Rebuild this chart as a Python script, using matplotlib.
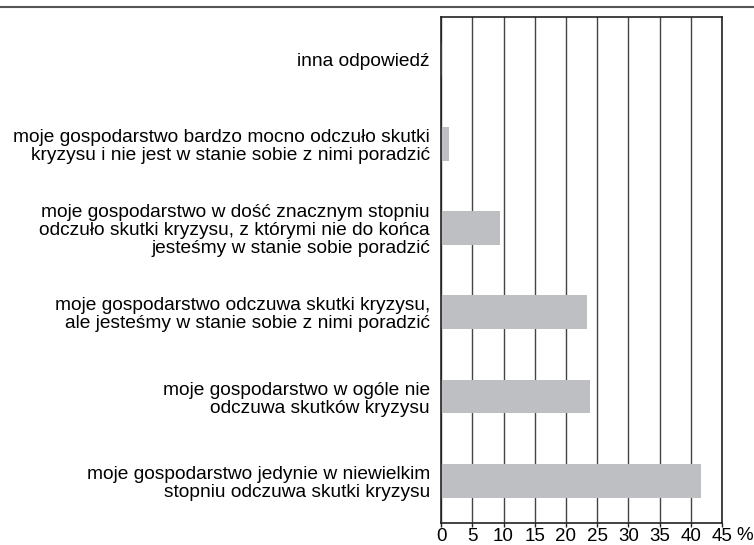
import matplotlib.pyplot as plt
from matplotlib.lines import Line2D
import matplotlib.transforms as mtransforms

# Categories listed bottom to top
labels = [
    "moje gospodarstwo jedynie w niewielkim\nstopniu odczuwa skutki kryzysu",
    "moje gospodarstwo w ogóle nie\nodczuwa skutków kryzysu",
    "moje gospodarstwo odczuwa skutki kryzysu,\nale jesteśmy w stanie sobie z nimi poradzić",
    "moje gospodarstwo w dość znacznym stopniu\nodczuło skutki kryzysu, z którymi nie do końca\njesteśmy w stanie sobie poradzić",
    "moje gospodarstwo bardzo mocno odczuło skutki\nkryzysu i nie jest w stanie sobie z nimi poradzić",
    "inna odpowiedź",
]
values = [41.6, 23.9, 23.4, 9.5, 1.2, 0.2]
xticks = [0, 5, 10, 15, 20, 25, 30, 35, 40, 45]

plt.rcParams['font.family'] = ['Liberation Sans', 'DejaVu Sans']
FS = 13.8

fig = plt.figure(figsize=(7.54, 5.45), dpi=100)
ax = fig.add_axes([0.585, 0.0404, 0.3726, 0.9276])

ypos = list(range(len(labels)))
ax.barh(ypos, values, height=0.4, color='#bebfc2', zorder=1)

ax.set_xlim(0, 45)
ax.set_ylim(-0.5, len(labels) - 0.5)
ax.set_xticks(xticks)
ax.set_xticklabels([str(t) for t in xticks], fontsize=13.5)
ax.set_yticks(ypos)
ax.set_yticklabels(labels, fontsize=FS, linespacing=1.08)
ax.tick_params(axis='y', length=0, pad=8)
ax.tick_params(axis='x', direction='out', length=3, width=1, color='#222222', pad=0.5)

ax.grid(axis='x', color='#444444', linewidth=1, zorder=0)
ax.set_axisbelow(True)
for s in ax.spines.values():
    s.set_color('#222222')
    s.set_linewidth(1.2)

# percent sign next to the last tick label
trans = mtransforms.blended_transform_factory(ax.transData, ax.transAxes)
ax.annotate('%', xy=(45, 0), xycoords=trans, xytext=(10, -2.7),
            textcoords='offset points', ha='left', va='top', fontsize=13.5)

# horizontal rule across the top of the figure
fig.add_artist(Line2D([0, 1], [0.988, 0.988], transform=fig.transFigure,
                      color='#555555', linewidth=1.5))

fig.savefig('out.png', dpi=100)
